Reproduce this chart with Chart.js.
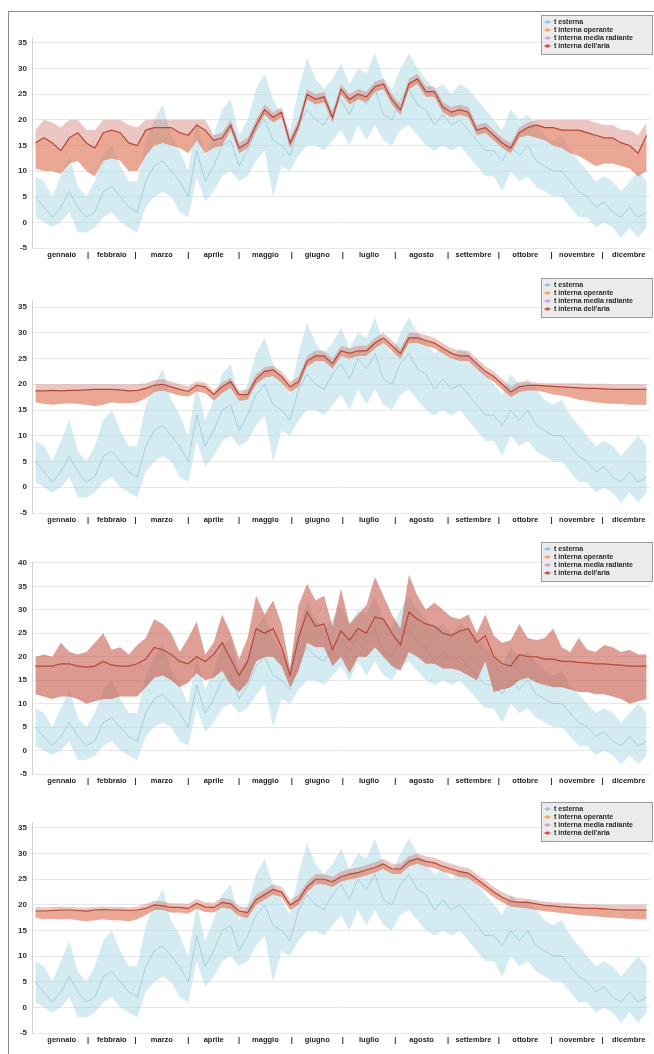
<!DOCTYPE html>
<html>
<head>
<meta charset="utf-8">
<script src="https://cdn.jsdelivr.net/npm/chart.js@4.4.1/dist/chart.umd.min.js"></script>
<style>
body { margin: 0; background: #fff; overflow: hidden; }
#frame { position: absolute; left: 8px; top: 11px; width: 646px; height: 1043px; border-left: 1px solid #8c8c8c; border-top: 1px solid #8c8c8c; }
canvas { position: absolute; left: 9px; }
</style>
</head>
<body>
<div id="frame"></div>
<canvas id="c1" width="645" height="253" style="top:12px"></canvas>
<canvas id="c2" width="645" height="262" style="top:266px"></canvas>
<canvas id="c3" width="645" height="260" style="top:530px"></canvas>
<canvas id="c4" width="645" height="262" style="top:792px"></canvas>
<script>
// giorni campionati ogni 5 giorni (0..360)
const days = Array.from({ length: 73 }, (v, i) => i * 5);
const monthNames = ['gennaio', 'febbraio', 'marzo', 'aprile', 'maggio', 'giugno', 'luglio', 'agosto', 'settembre', 'ottobre', 'novembre', 'dicembre'];
const monthStarts = [0, 31, 59, 90, 120, 151, 181, 212, 243, 273, 304, 334, 365];
const seriesNames = ['t esterna', 't interna operante', 't interna media radiante', "t interna dell'aria"];
const seriesColors = ['#8fc4da', '#f3a25e', '#c9a3d3', '#c0504a'];
const yTicks35 = [-5, 0, 5, 10, 15, 20, 25, 30, 35];
const yTicks40 = [-5, 0, 5, 10, 15, 20, 25, 30, 35, 40];

// temperatura esterna (uguale nei 4 grafici)
const extMean = [5,3,1,3,6,3,1,2,6,7, 5,3,2,8,11,12,10,8,5,14, 8,11,15,16,11,14,18,20,16,15, 13,19,22,20,19,22,24,21,25,23, 26,21,20,24,26,23,22,19,21,19, 20,18,16,14,14,12,15,13,15,12, 11,10,10,8,6,5,3,4,2,1, 3,1,2];
const extLo = [1,0,-1,0,2,-2,-2,-1,1,2, 0,-1,-2,3,5,6,5,2,1,9, 4,6,9,10,8,9,12,14,5,11, 10,13,15,15,14,16,18,15,19,16, 19,16,15,18,19,17,15,14,15,14, 15,13,11,9,9,6,10,8,9,7, 6,5,5,3,1,1,-1,0,-1,-3, -1,-3,-1];
const extHi = [9,8,5,9,13,7,5,8,13,15, 11,8,8,16,20,23,17,14,10,20, 13,17,22,24,17,20,26,29,24,21, 18,26,32,28,26,28,31,27,30,29, 33,28,26,30,33,30,28,26,27,25, 27,26,24,22,20,18,22,20,21,19, 17,16,17,14,12,10,8,9,8,6, 8,10,8];

// grafico 1
const mean1 = [15.5,16.5,15.5,14,16.5,17.5,15.5,14.5,17.5,18, 17.5,15.5,15,18,18.5,18.5,18.5,17.5,17,19, 18,16,16.5,19,14.5,15.5,19,22,20.5,21.5, 15.5,19,25,24,24.5,20.5,26,24,25,24.5, 26.5,27,24,22,27,28,25.5,25.5,22.5,21.5, 22,21.5,18,18.5,17,15.5,14.5,17.5,18.5,19, 18.5,18.5,18,18,18,17.5,17,16.5,16.5,15.5, 15,13.5,17];
const lo1 = [10.5,10,10,9.5,11.5,12,10,9,12,12.5, 12,10,10,13,15,15.5,15,14.5,13.5,16, 13.5,14.5,15,18,13.5,14.5,18,21,19.5,20.5, 14.5,18,24,23,23.5,19.5,25,23,24,23.5, 25.5,26,23,21,26,27,24.5,24.5,21.5,20.5, 21,20.5,17,17.5,16,14.5,13.5,16.5,17,16.5, 16,15,14.5,13.5,13,12,11,11.5,11.5,11, 10.5,9,10];
const hi1 = [18,20,19.5,18.5,20,20,18,18,20,20, 20,19,18.5,20,20,20,20,20,20,20, 20,17,17.5,20,15.5,16.5,20,23,21.5,22.5, 16.5,20,26,25,25.5,21.5,27,25,26,25.5, 27.5,28,25,23,28,29,26.5,26.5,23.5,22.5, 23,22.5,19,19.5,18,16.5,15.5,18.5,19.5,20, 20,20,20,20,20,20,19.5,19,19,18, 18,17,19.5];

// grafico 2
const mean2 = [18.7,18.7,18.8,18.7,18.8,18.8,18.9,19,19,19, 18.9,18.7,18.8,19.2,19.8,20,19.5,19,18.6,19.8, 19.5,18,19.5,20.5,18,18,21,22.5,22.8,21.5, 19.5,20.5,24.5,25.5,25.5,24,26.5,26,26.5,26.5, 28,29,27.5,26,29,29,28.5,28,27,26, 25.5,25.5,24,22.5,21.5,20,18.5,19.5,19.8,19.8, 19.7,19.6,19.5,19.4,19.3,19.2,19.2,19.1,19,19, 19,19,19];
const lo2 = [16.5,16.2,16,16.2,16.3,16.2,16,15.8,16,16.5, 16.3,16.3,16.5,17.3,18.5,18.8,18.3,17.8,17.6,18.6, 18.3,16.8,18.3,19.3,16.8,17,20,21.3,21.6,20.3, 18.5,19.5,23.5,24.5,24.5,23,25.5,25,25.5,25.5, 27,28,26.5,25,28,28,27.5,27,26,25, 24.5,24.5,23,21.5,20.5,19,17.5,18.5,18.8,18.8, 18.5,18,17.8,17.5,17,16.8,16.5,16.3,16.2,16.2, 16,16,16];
const hi2 = [20,20,20,20,20,20,20,20,20,20, 20,20,20,20.2,20.8,21,20.5,20,19.6,20.6, 20.3,18.8,20.3,21.3,18.8,19,22,23.3,23.6,22.5, 20.5,21.5,25.5,26.5,26.5,25,27.5,27,27.5,27.5, 29,30,28.5,27,30,30,29.5,29,28,27, 26.5,26.5,25,23.5,22.5,21,19.5,20.5,20.5,20.3, 20.2,20.2,20.2,20.2,20.2,20.1,20.1,20.1,20,20, 20,20,20];

// grafico 3
const mean3 = [18,18,18,18.5,18.5,18,17.8,18,19,18.2, 18,18,18.5,19.5,22,21.5,20.5,19,18.5,20, 19,20.5,23,19.5,16,19,26,25,26,22, 16,24,29.5,26.5,27,21.5,25.5,23.5,26,25, 28.5,28,25,22.5,29.5,28,27,26.5,25,24.5, 25.5,26,23,24.5,20,18.5,18,20.5,20,20, 19.5,19.5,19,19,18.8,18.7,18.5,18.5,18.3,18.2, 18,18,18];
const lo3 = [12,11.5,11,11.5,11.5,11,10,10.5,11,11, 11.5,11.5,11.5,13.5,15.5,16,15,13.5,14.5,16.5, 15,15.5,17,14,12.5,14.5,19,20,20,18, 13.5,17,23,22,22,18,20,16.5,20,20, 22,20,18,17,21,20,18.5,18.5,17.5,17.5, 17,16,15,19,12.5,13,13.5,15,15.5,14.5, 14,13.5,13.5,13,12.5,12.5,12,12,11.5,11, 10,10.5,11];
const hi3 = [20,20.5,20,23,21,20.5,21,23,25,21.5, 22,20.5,22.5,24,28,27,25,21,24,27.5, 20.5,23,29,25,19.5,24,33,29,32,27, 17.5,31,35.5,32,33,26.5,34.5,27,29,31, 37,33,29,26,37.5,33,30,31.5,30,28.5, 28,29,25,29,24.5,23,23.5,27,24,23.5, 24,26,22,21,24,21.5,21,22.5,22,21, 21.5,20.5,20.5];

// grafico 4
const mean4 = [18.8,18.8,18.9,19,19,18.9,18.8,19,19.1,19, 19,18.9,19,19.3,20,19.8,19.5,19.5,19.3,20.3, 19.6,19.5,20.5,20.2,18.8,18.5,21,22,23,22.5, 20,21,23.5,25,25,24.5,25.5,26,26.3,26.8, 27.3,28,27,27,28.5,29,28.5,28.2,27.5,27, 26.5,26.2,25,23.8,22.5,21.5,20.7,20.5,20.5,20.2, 19.9,19.8,19.6,19.5,19.4,19.3,19.3,19.2,19.1,19, 19,19,19];
const lo4 = [17.5,17.2,17.3,17.2,17.3,17,16.8,17,17.2,17, 17,16.8,17.2,18,19,19,18.5,18.5,18.3,19.3, 18.6,18.5,19.5,19.2,17.8,17.5,20,21,22,21.5, 19,20,22.5,24,24,23.5,24.5,25,25.3,25.8, 26.3,27,26,26,27.5,28,27.5,27.2,26.5,26, 25.5,25.2,24,22.8,21.5,20.5,19.7,19.5,19.3,19, 18.8,18.6,18.4,18.2,18,17.9,17.8,17.6,17.5,17.4, 17.3,17.2,17.2];
const hi4 = [19.6,19.5,19.6,19.7,19.6,19.5,19.5,19.6,19.7,19.6, 19.6,19.5,19.7,20.2,20.8,20.7,20.3,20.3,20.2,21.2, 20.5,20.4,21.4,21.1,19.8,19.5,22,23,24,23.5, 21,22,24.5,26,26,25.5,26.5,27,27.3,27.8, 28.3,29,28,28,29.5,30,29.5,29.2,28.5,28, 27.5,27.2,26,24.8,23.5,22.5,21.7,21.3,21.2,20.9, 20.6,20.5,20.4,20.3,20.2,20.1,20.1,20,20,20, 20,20,20];

Chart.defaults.font.family = '"Liberation Sans", Arial, sans-serif';

const pts = arr => arr.map((y, i) => ({ x: days[i], y: y }));

const monthTicks = [];
const monthLabels = [];
for (let i = 0; i < 12; i++) {
    monthTicks.push((monthStarts[i] + monthStarts[i + 1]) / 2);
    monthLabels.push(monthNames[i]);
    if (i < 11) {
        monthTicks.push(monthStarts[i + 1]);
        monthLabels.push('|');
    }
}

const legendBox = {
    id: 'legendBox',
    afterDraw(chart, args, opts) {
        const ctx = chart.ctx;
        const x = opts.x, y = opts.y;
        ctx.save();
        ctx.fillStyle = '#ebebeb';
        ctx.fillRect(x, y, 112, 40);
        ctx.strokeStyle = '#9a9a9a';
        ctx.lineWidth = 1;
        ctx.strokeRect(x + 0.5, y + 0.5, 111, 39);
        ctx.font = 'bold 7px "Liberation Sans"';
        ctx.textBaseline = 'middle';
        seriesNames.forEach((name, i) => {
            const ly = y + 7 + i * 8;
            ctx.strokeStyle = seriesColors[i];
            ctx.beginPath();
            ctx.moveTo(x + 3, ly);
            ctx.lineTo(x + 10, ly);
            ctx.stroke();
            ctx.fillStyle = seriesColors[i];
            ctx.beginPath();
            ctx.arc(x + 6.5, ly, 1.8, 0, Math.PI * 2);
            ctx.fill();
            ctx.fillStyle = '#2a2a2a';
            ctx.fillText(name, x + 13, ly);
        });
        ctx.restore();
    }
};

const panels = [
    { id: 'c1', lo: lo1, hi: hi1, mean: mean1, yMax: 36.17, ticks: yTicks35, padTop: 25, padBottom: 3, legendY: 3,
      band: 'rgba(210,120,110,0.42)', under: 'rgba(228,125,85,0.42)' },
    { id: 'c2', lo: lo2, hi: hi2, mean: mean2, yMax: 36.36, ticks: yTicks35, padTop: 34, padBottom: 1, legendY: 12,
      band: 'rgba(210,120,110,0.42)', under: 'rgba(228,125,85,0.42)' },
    { id: 'c3', lo: lo3, hi: hi3, mean: mean3, yMax: 40.2, ticks: yTicks40, padTop: 32, padBottom: 2, legendY: 12,
      band: 'rgba(200,95,80,0.6)', under: 'rgba(200,95,80,0.1)' },
    { id: 'c4', lo: lo4, hi: hi4, mean: mean4, yMax: 36.17, ticks: yTicks35, padTop: 30, padBottom: 7, legendY: 10,
      band: 'rgba(210,120,110,0.42)', under: 'rgba(228,125,85,0.42)' }
];

panels.forEach(function(p) {
    new Chart(document.getElementById(p.id), {
        type: 'line',
        data: {
            datasets: [
                { data: pts(extLo), borderColor: 'transparent', borderWidth: 0, pointRadius: 0, fill: false, order: 10 },
                { data: pts(extHi), borderColor: 'transparent', borderWidth: 0, pointRadius: 0, fill: { target: 0 },
                  backgroundColor: 'rgba(168,214,228,0.48)', order: 9 },
                { data: pts(extMean), borderColor: 'rgba(120,185,205,0.7)', borderWidth: 0.8, pointRadius: 0, fill: false, order: 8 },
                { data: pts(p.lo), borderColor: 'transparent', borderWidth: 0, pointRadius: 0, fill: false, order: 7 },
                { data: pts(p.hi), borderColor: 'transparent', borderWidth: 0, pointRadius: 0, fill: { target: 3 },
                  backgroundColor: p.band, order: 6 },
                { data: pts(p.mean), borderColor: '#b5473b', borderWidth: 1.2, pointRadius: 0, fill: { target: 3 },
                  backgroundColor: p.under, order: 5 }
            ]
        },
        options: {
            responsive: false,
            animation: false,
            events: [],
            layout: { padding: { top: p.padTop, bottom: p.padBottom, left: 0, right: 4 } },
            plugins: {
                legend: { display: false },
                tooltip: { enabled: false },
                legendBox: { x: 532, y: p.legendY }
            },
            scales: {
                x: {
                    type: 'linear',
                    min: -2,
                    max: 362,
                    grid: { display: false, drawTicks: false },
                    border: { display: false },
                    afterBuildTicks: s => { s.ticks = monthTicks.map(v => ({ value: v })); },
                    afterFit: s => { s.height = 14; },
                    ticks: {
                        autoSkip: false,
                        maxRotation: 0,
                        padding: 2,
                        color: '#222',
                        font: { size: 7.5, weight: 'bold' },
                        callback: (v, i) => monthLabels[i]
                    }
                },
                y: {
                    min: -5,
                    max: p.yMax,
                    afterBuildTicks: s => { s.ticks = p.ticks.map(v => ({ value: v })); },
                    afterFit: s => { s.width = 23; },
                    grid: { color: '#e8e8e8', drawTicks: false },
                    border: { color: '#d2d2d2' },
                    ticks: { padding: 5, color: '#333', font: { size: 8, weight: 'bold' } }
                }
            }
        },
        plugins: [legendBox]
    });
});
</script>
</body>
</html>
